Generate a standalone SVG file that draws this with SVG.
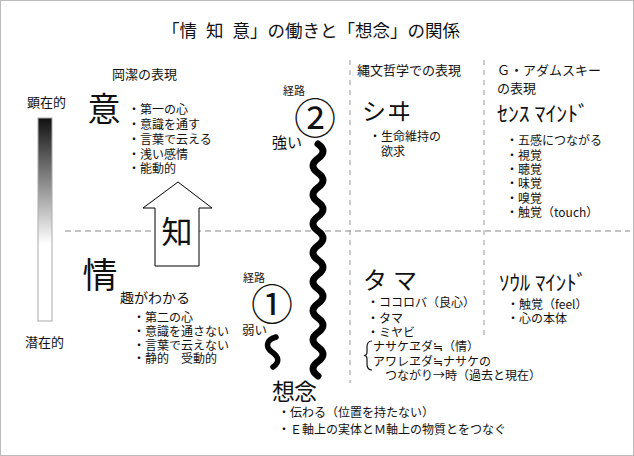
<svg xmlns="http://www.w3.org/2000/svg" width="634" height="456" viewBox="0 0 634 456">
<defs>
<linearGradient id="grad" x1="0" y1="0" x2="0" y2="1">
<stop offset="0" stop-color="#111"/>
<stop offset="0.62" stop-color="#fff"/>
<stop offset="1" stop-color="#fff"/>
</linearGradient>
<style>
text{font-family:"Noto Sans CJK JP","Noto Sans CJK SC",sans-serif;fill:#111}
.s11{font-size:11px}.s12{font-size:12px}.s13{font-size:13px}.s14{font-size:14px}
.dash{stroke:#888;stroke-width:1;stroke-dasharray:6 4;fill:none}
.vdash{stroke:#999;stroke-width:1;stroke-dasharray:5 5;fill:none}
.wave{stroke:#000;fill:none;stroke-linecap:round;stroke-linejoin:round}
</style>
</defs>
<rect x="0.5" y="0.5" width="633" height="455" fill="#fff" stroke="#bbb"/>
<text x="311" y="37" font-size="17.5" text-anchor="middle">「情 <tspan dx="5">知 </tspan><tspan dx="5">意」の働きと「想念」の関係</tspan></text>

<g id="guides">
<line class="dash" x1="65" y1="231" x2="630" y2="231"/>
<line class="vdash" x1="350" y1="60" x2="350" y2="383"/>
<line class="vdash" x1="484" y1="60" x2="484" y2="336"/>
</g>

<g id="scale">
<rect x="38" y="118" width="14" height="203" fill="url(#grad)" stroke="#aaa"/>
<text class="s13" x="27" y="107">顕在的</text>
<text class="s13" x="25" y="347">潜在的</text>
</g>

<text class="s13" x="112" y="79">岡潔の表現</text>
<text class="s13" x="357" y="75">縄文哲学での表現</text>
<text class="s13" x="497" y="75">Ｇ・アダムスキー</text>
<text class="s13" x="497" y="93">の表現</text>

<g id="i-node">
<text x="104" y="121" font-size="33" text-anchor="middle">意</text>
<text class="s12" x="128" y="114">・第一の心</text>
<text class="s12" x="128" y="129">・意識を通す</text>
<text class="s12" x="128" y="144">・言葉で云える</text>
<text class="s12" x="128" y="158.5">・浅い感情</text>
<text class="s12" x="128" y="173">・能動的</text>
</g>

<g id="chi-node">
<polygon points="178,182 212,208 199,208 199,266 155,266 155,208 143,208" fill="#fff" stroke="#000" stroke-width="1"/>
<text x="177" y="243" font-size="31" text-anchor="middle">知</text>
</g>

<g id="jou-node">
<text x="100" y="288" font-size="35" text-anchor="middle">情</text>
<text class="s14" x="120" y="303">趣がわかる</text>
<text class="s12" x="133" y="322">・第二の心</text>
<text class="s12" x="133" y="336">・意識を通さない</text>
<text class="s12" x="133" y="350">・言葉で云えない</text>
<text class="s12" x="133" y="363">・静的　受動的</text>
</g>

<g id="route1">
<text class="s11" x="243" y="282">経路</text>
<text x="272" y="320" font-size="42" text-anchor="middle">①</text>
<text x="242" y="335" font-size="12.5">弱い</text>
</g>

<g id="route2">
<text class="s11" x="283" y="95">経路</text>
<text x="315" y="134" font-size="42" text-anchor="middle">②</text>
<text x="272" y="148" font-size="15">強い</text>
</g>

<g id="connectors">
<path class="wave" stroke-width="7" d="M318,144 q10,7.25 0,14.5 t0,14.5 t0,14.5 t0,14.5 t0,14.5 t0,14.5 t0,14.5 t0,14.5 t0,14.5 t0,14.5 t0,14.5 t0,14.5 t0,14.5 t0,14.5 t0,14.5 t0,14.5"/>
<path class="wave" stroke-width="5.5" d="M276,337 C266,340 265,347 272,352 S280,362 273,367"/>
</g>

<g id="shiwi-node">
<text x="362" y="120" font-size="24" letter-spacing="1">シヰ</text>
<text class="s12" x="369" y="141">・生命維持の</text>
<text class="s12" x="381" y="156">欲求</text>
</g>

<g id="sense-node">
<text x="497" y="121" font-size="21" textLength="92" lengthAdjust="spacingAndGlyphs">ｾﾝｽ ﾏｲﾝﾄﾞ</text>
<text class="s12" x="506" y="145">・五感につながる</text>
<text class="s12" x="506" y="160">・視覚</text>
<text class="s12" x="506" y="174">・聴覚</text>
<text class="s12" x="506" y="188">・味覚</text>
<text class="s12" x="506" y="203">・嗅覚</text>
<text class="s12" x="506" y="217">・触覚（touch）</text>
</g>

<g id="tama-node">
<text x="363" y="289" font-size="24" letter-spacing="6">タマ</text>
<text class="s12" x="367" y="307">・ココロバ（良心）</text>
<text class="s12" x="367" y="323">・タマ</text>
<text class="s12" x="367" y="337">・ミヤビ</text>
<path d="M372,341 Q367,341 367,347 L367,352 Q367,355.5 364,355.5 Q367,355.5 367,359 L367,364 Q367,370 372,370" fill="none" stroke="#111" stroke-width="1.2"/>
<text class="s12" x="373" y="351">ナサケヱダ≒（情）</text>
<text class="s12" x="373" y="366">アワレヱダ≒ナサケの</text>
<text class="s12" x="385" y="380">つながり→時（過去と現在）</text>
</g>

<g id="soul-node">
<text x="499" y="290" font-size="21" textLength="88" lengthAdjust="spacingAndGlyphs">ｿｳﾙ ﾏｲﾝﾄﾞ</text>
<text class="s12" x="507" y="309">・触覚（feel）</text>
<text class="s12" x="507" y="323">・心の本体</text>
</g>

<g id="sounen-node">
<text x="272" y="400" font-size="23" letter-spacing="-1">想念</text>
<text class="s12" x="278" y="417">・伝わる（位置を持たない）</text>
<text class="s12" x="278" y="434">・Ｅ軸上の実体とＭ軸上の物質とをつなぐ</text>
</g>
</svg>
